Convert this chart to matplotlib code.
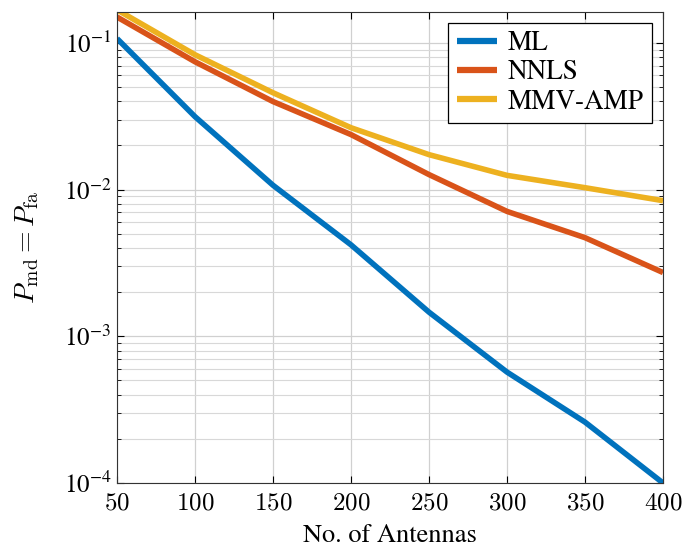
import matplotlib
matplotlib.use("Agg")
import matplotlib.pyplot as plt

plt.rcParams['font.family'] = ['STIXGeneral', 'DejaVu Serif']
plt.rcParams['mathtext.fontset'] = 'cm'
plt.rcParams['axes.formatter.use_mathtext'] = True

antennas = [50, 100, 150, 200, 250, 300, 350, 400]
ml = [0.107, 0.0314, 0.0107, 0.0042, 0.00146, 0.00057, 0.00026, 0.0001]
nnls = [0.150, 0.0743, 0.0398, 0.0237, 0.01265, 0.0071, 0.0047, 0.00272]
mmv_amp = [0.168, 0.083, 0.0457, 0.0264, 0.0173, 0.0125, 0.0103, 0.0084]
xticks = [50, 100, 150, 200, 250, 300, 350, 400]

series = [("ML", ml, "#0072BD"), ("NNLS", nnls, "#D95319"), ("MMV-AMP", mmv_amp, "#EDB120")]

fig = plt.figure(figsize=(6.86, 5.51), dpi=100)
ax = fig.add_axes([0.1706, 0.1234, 0.7959, 0.8546])
for name, vals, c in series:
    ax.plot(antennas, vals, color=c, lw=4, label=name, solid_capstyle='butt')
ax.set_yscale('log')
ax.set_xlim(50, 400)
ax.set_ylim(1e-4, 0.162)
ax.set_xticks(xticks)
ax.set_xticklabels([rf"${v}$" for v in xticks])
ax.grid(True, which='major', color='#d0d0d0', lw=0.9)
ax.grid(True, which='minor', color='#d8d8d8', lw=0.8)
ax.tick_params(which='both', direction='in', top=True, right=True, labelsize=18)
ax.tick_params(axis='x', pad=6)
ax.tick_params(axis='y', pad=4)
ax.tick_params(which='major', length=5)
ax.tick_params(which='minor', length=3)
ax.set_xlabel("No. of Antennas", fontsize=19, labelpad=6)
ax.set_ylabel(r"$P_{\mathrm{md}} = P_{\mathrm{fa}}$", fontsize=20, labelpad=16)
for s in ax.spines.values():
    s.set_color('#333333')
leg = ax.legend(loc='upper right', fontsize=19.5, fancybox=False, edgecolor='black',
                framealpha=1, handlelength=1.5, handletextpad=0.4, borderaxespad=0.4,
                labelspacing=0.15, borderpad=0.3)
leg.get_frame().set_linewidth(0.9)
for h in leg.get_lines():
    h.set_linewidth(4.5)
fig.savefig("out.png", dpi=100)
